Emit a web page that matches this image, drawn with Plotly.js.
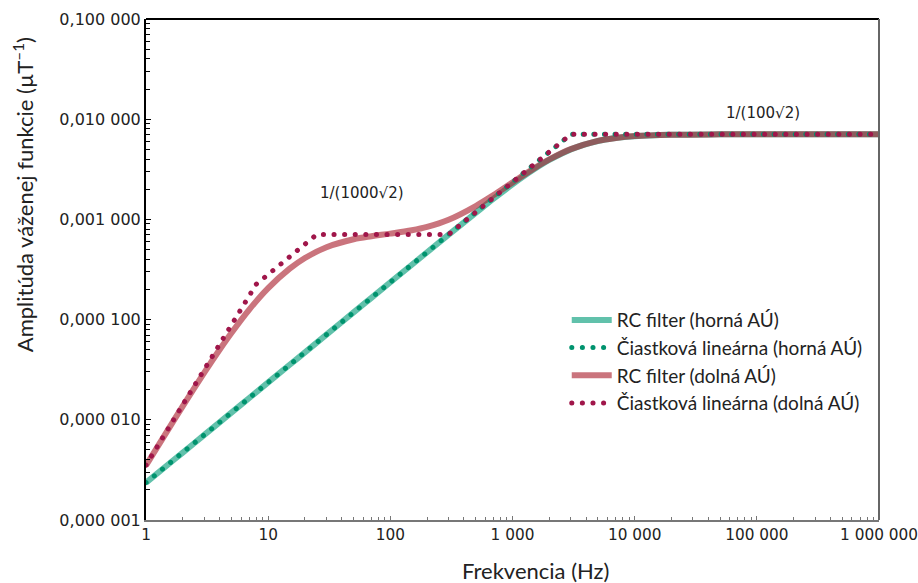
<!DOCTYPE html>
<html>
<head>
<meta charset="utf-8">
<script src="https://cdn.plot.ly/plotly-3.0.1.min.js"></script>
<style>html,body{margin:0;padding:0;background:#fff;}#chart{width:918px;height:583px;}</style>
</head>
<body>
<div id="chart"></div>
<script>
// Frequency samples (Hz) for the smooth RC-filter curves
const rcFreq = [1, 1.5, 2, 3, 4, 5, 7, 10, 15, 20, 30, 50, 70, 100, 150, 200, 300, 500, 700, 1000, 1500, 2000, 3000, 5000, 7000, 10000, 20000, 50000, 100000, 1000000];
// RC filter (horná AÚ)
const rcUpper = [2.36e-6, 3.54e-6, 4.71e-6, 7.07e-6, 9.43e-6, 1.18e-5, 1.65e-5, 2.36e-5, 3.54e-5, 4.71e-5, 7.07e-5, 1.18e-4, 1.65e-4, 2.36e-4, 3.53e-4, 4.70e-4, 7.04e-4, 1.16e-3, 1.61e-3, 2.24e-3, 3.16e-3, 3.92e-3, 5.00e-3, 6.06e-3, 6.50e-3, 6.77e-3, 6.99e-3, 7.06e-3, 7.07e-3, 7.07e-3];
// RC filter (dolná AÚ)
const rcLower = [3.51e-6, 7.81e-6, 1.37e-5, 2.96e-5, 5.00e-5, 7.36e-5, 1.26e-4, 2.06e-4, 3.22e-4, 4.12e-4, 5.28e-4, 6.34e-4, 6.80e-4, 7.21e-4, 7.79e-4, 8.42e-4, 9.93e-4, 1.36e-3, 1.75e-3, 2.34e-3, 3.23e-3, 3.97e-3, 5.03e-3, 6.08e-3, 6.50e-3, 6.78e-3, 6.99e-3, 7.06e-3, 7.07e-3, 7.07e-3];
// Čiastková lineárna (horná AÚ) – breakpoints
const plUpperFreq = [1, 3000, 1000000];
const plUpper = [2.36e-6, 7.07e-3, 7.07e-3];
// Čiastková lineárna (dolná AÚ) – breakpoints
const plLowerFreq = [1, 8, 25, 300, 3000, 1000000];
const plLower = [3.53e-6, 2.26e-4, 7.07e-4, 7.07e-4, 7.07e-3, 7.07e-3];

const xTickVals = [1, 10, 100, 1000, 10000, 100000, 1000000];
const xTickText = ['1', '10', '100', '1 000', '10 000', '100 000', '1 000 000'];
const yTickVals = [1e-6, 1e-5, 1e-4, 1e-3, 1e-2, 1e-1];
const yTickText = ['0,000 001', '0,000 010', '0,000 100', '0,001 000', '0,010 000', '0,100 000'];

const seriesNames = ['RC filter (horná AÚ)', 'Čiastková lineárna (horná AÚ)', 'RC filter (dolná AÚ)', 'Čiastková lineárna (dolná AÚ)'];

const narrow = 'Lato, "Roboto", sans-serif';
const xTickFont = {family: '"DejaVu Sans", sans-serif', size: 15.3, color: '#222'};
const yTickFont = {family: '"DejaVu Sans", sans-serif', size: 16, color: '#222'};

const traces = [
  {x: rcFreq, y: rcUpper, name: seriesNames[0], mode: 'lines', line: {color: 'rgba(0,155,120,0.62)', width: 6, shape: 'spline'}, legendrank: 1},
  {x: rcFreq, y: rcLower, name: seriesNames[2], mode: 'lines', line: {color: 'rgba(170,30,45,0.62)', width: 6, shape: 'spline'}, legendrank: 3},
  {x: plUpperFreq, y: plUpper, name: seriesNames[1], mode: 'lines', line: {color: '#00936e', width: 5, dash: 'dot'}, legendrank: 2},
  {x: plLowerFreq, y: plLower, name: seriesNames[3], mode: 'lines', line: {color: '#a0164a', width: 5, dash: 'dot'}, legendrank: 4}
];

const layout = {
  width: 918, height: 583,
  margin: {l: 146, r: 39, t: 19, b: 63},
  paper_bgcolor: '#fff', plot_bgcolor: '#fff',
  showlegend: true,
  legend: {x: 0.574, y: 0.437, xanchor: 'left', yanchor: 'top', bgcolor: 'rgba(0,0,0,0)',
           font: {family: narrow, size: 19, color: '#222'}, itemwidth: 40, tracegroupgap: 0},
  xaxis: {type: 'log', range: [0, 6], tickmode: 'array', tickvals: xTickVals, ticktext: xTickText,
          tickfont: xTickFont, ticklabeloverflow: 'allow', showgrid: false, zeroline: false, showline: true, linecolor: '#777', linewidth: 2,
          ticks: 'inside', ticklen: 4, tickcolor: '#777',
          minor: {ticks: 'inside', ticklen: 3, dtick: 'D1', tickcolor: '#777', showgrid: false}},
  yaxis: {type: 'log', range: [-6, -1], tickmode: 'array', tickvals: yTickVals, ticktext: yTickText,
          tickfont: yTickFont, ticklabeloverflow: 'allow', showgrid: false, zeroline: false, showline: true, linecolor: '#000', linewidth: 2,
          ticks: 'inside', ticklen: 5, tickcolor: '#000',
          minor: {ticks: 'inside', ticklen: 4, dtick: 'D1', tickcolor: '#000', showgrid: false}},
  shapes: [
    {type: 'line', xref: 'paper', yref: 'paper', x0: 0, x1: 1, y0: 1, y1: 1, line: {color: '#000', width: 2}},
    {type: 'line', xref: 'paper', yref: 'paper', x0: 1, x1: 1, y0: 0, y1: 1, line: {color: '#666', width: 2}}
  ],
  annotations: [
    {text: '1/(1000√2)', xref: 'paper', yref: 'paper', x: 0.2947, y: 0.6527, xanchor: 'center', yanchor: 'middle', showarrow: false,
     font: {family: '"DejaVu Sans", sans-serif', size: 15, color: '#222'}},
    {text: '1/(100√2)', xref: 'paper', yref: 'paper', x: 0.8417, y: 0.8124, xanchor: 'center', yanchor: 'middle', showarrow: false,
     font: {family: '"DejaVu Sans", sans-serif', size: 15, color: '#222'}},
    {text: 'Frekvencia (Hz)', xref: 'paper', yref: 'paper', x: 0.532, y: -0.1, xanchor: 'center', yanchor: 'middle', showarrow: false,
     font: {family: narrow, size: 22, color: '#222'}},
    {text: 'Amplitúda váženej funkcie (µT<sup>–1</sup>)', xref: 'paper', yref: 'paper', x: -0.168, y: 0.65,
     xanchor: 'center', yanchor: 'middle',
     textangle: -90, showarrow: false, font: {family: narrow, size: 22, color: '#222'}}
  ]
};

Plotly.newPlot('chart', traces, layout, {displayModeBar: false, staticPlot: true}).then(function () {
  document.querySelectorAll('path.js-line').forEach(function (p) {
    const da = p.style.strokeDasharray;
    if (da && da !== 'none' && da !== '') {
      p.style.strokeDasharray = '0.1px, 10.5px';
      p.style.strokeLinecap = 'round';
    }
  });
});
</script>
</body>
</html>
